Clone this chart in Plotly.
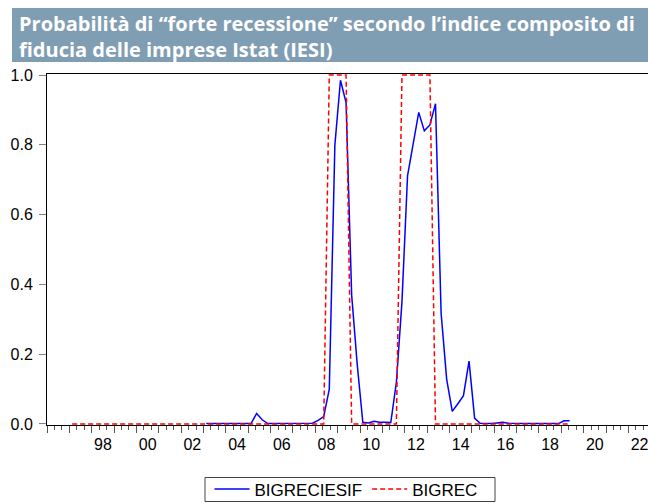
import plotly.graph_objects as go

# ---- data (quarterly) ----
blue_start = "2003Q1"
bigreciesif = [
    0.001, 0.001, 0.001, 0.001,   # 2003
    0.001, 0.001, 0.002, 0.001,   # 2004
    0.001, 0.030, 0.012, 0.001,   # 2005
    0.001, 0.001, 0.001, 0.001,   # 2006
    0.001, 0.001, 0.001, 0.002,   # 2007
    0.010, 0.021, 0.100, 0.800,   # 2008
    0.985, 0.921, 0.370, 0.170,   # 2009
    0.005, 0.003, 0.008, 0.005,   # 2010
    0.005, 0.004, 0.119, 0.350,   # 2011
    0.712, 0.803, 0.893, 0.840,   # 2012
    0.857, 0.918, 0.318, 0.128,   # 2013
    0.036, 0.058, 0.081, 0.180,   # 2014
    0.016, 0.002, 0.001, 0.001,   # 2015
    0.003, 0.005, 0.002, 0.001,   # 2016
    0.001, 0.001, 0.001, 0.001,   # 2017
    0.001, 0.001, 0.001, 0.001,   # 2018
    0.009, 0.009,                 # 2019
]

red_start = "1997Q1"
bigrec = [
    0, 0, 0, 0,   # 1997
    0, 0, 0, 0,   # 1998
    0, 0, 0, 0,   # 1999
    0, 0, 0, 0,   # 2000
    0, 0, 0, 0,   # 2001
    0, 0, 0, 0,   # 2002
    0, 0, 0, 0,   # 2003
    0, 0, 0, 0,   # 2004
    0, 0, 0, 0,   # 2005
    0, 0, 0, 0,   # 2006
    0, 0, 0, 0,   # 2007
    0, 0, 1, 1,   # 2008
    1, 1, 0, 0,   # 2009
    0, 0, 0, 0,   # 2010
    0, 0, 0, 1,   # 2011
    1, 1, 1, 1,   # 2012
    1, 0, 0, 0,   # 2013
    0, 0, 0, 0,   # 2014
    0, 0, 0, 0,   # 2015
    0, 0, 0, 0,   # 2016
    0, 0, 0, 0,   # 2017
    0, 0, 0, 0,   # 2018
    0, 0,         # 2019
]

year_labels = ["98", "00", "02", "04", "06", "08", "10", "12", "14", "16", "18", "20", "22"]
label_years = [1998, 2000, 2002, 2004, 2006, 2008, 2010, 2012, 2014, 2016, 2018, 2020, 2022]
y_ticks = [0.0, 0.2, 0.4, 0.6, 0.8, 1.0]

title_lines = ["Probabilità di “forte recessione” secondo l’indice composito di",
               "fiducia delle imprese Istat (IESI)"]


def quarter_positions(start, n):
    """Centre of each quarter on a fractional-year axis."""
    y, q = int(start[:4]), int(start[-1])
    out = []
    for _ in range(n):
        out.append(y + (q - 0.5) / 4)
        q += 1
        if q > 4:
            q, y = 1, y + 1
    return out


x_blue = quarter_positions(blue_start, len(bigreciesif))
x_red = quarter_positions(red_start, len(bigrec))

# ---- geometry ----
W, H = 648, 503
L, R, T, B = 47, 0, 74, 78
PW, PH = W - L - R, H - T - B
PX_PER_YEAR = 22.36
X0 = 1996.0
X1 = X0 + PW / PX_PER_YEAR


def px_x(px):
    return (px - L) / PW


def px_y(py):
    return (H - B - py) / PH


TICK_FONT = dict(family="Liberation Sans, Arial, sans-serif", size=16, color="#000000")
LEGEND_FONT = dict(family="Liberation Sans, Arial, sans-serif", size=17, color="#000000")

fig = go.Figure()
fig.add_trace(go.Scatter(x=x_blue, y=bigreciesif, mode="lines", name="BIGRECIESIF",
                         line=dict(color="#0000ff", width=1.5)))
fig.add_trace(go.Scatter(x=x_red, y=bigrec, mode="lines", name="BIGREC",
                         line=dict(color="#ff0000", width=1.5, dash="5px,3px")))
# carriers for the overlay axes (yearly ticks, year labels)
fig.add_trace(go.Scatter(x=[None], y=[None], xaxis="x2", showlegend=False, hoverinfo="skip"))
fig.add_trace(go.Scatter(x=[None], y=[None], xaxis="x3", showlegend=False, hoverinfo="skip"))

minor_ticks = [X0 + k / 3 for k in range(int((X1 - X0) * 3) + 1)]
year_ticks = list(range(1996, 2023))

common_x = dict(range=[X0, X1], showgrid=False, zeroline=False, fixedrange=True)

fig.update_layout(
    width=W, height=H,
    margin=dict(l=L, r=R, t=T, b=B, pad=0, autoexpand=False),
    paper_bgcolor="white", plot_bgcolor="white",
    xaxis=dict(**common_x, showline=True, linecolor="#000000", linewidth=1, mirror=True,
               tickmode="array", tickvals=minor_ticks, ticks="outside", ticklen=4,
               tickcolor="#555555", tickwidth=1, showticklabels=False),
    xaxis2=dict(**common_x, overlaying="x", anchor="y", side="bottom", showline=False,
                tickmode="array", tickvals=year_ticks, ticks="outside", ticklen=7,
                tickcolor="#555555", tickwidth=1, showticklabels=False),
    xaxis3=dict(**common_x, overlaying="x", anchor="y", side="bottom", showline=False,
                tickmode="array", tickvals=[y + 0.5 for y in label_years], ticktext=year_labels,
                ticks="outside", ticklen=5, tickcolor="rgba(0,0,0,0)",
                tickfont=TICK_FONT, ticklabeloverflow="allow"),
    yaxis=dict(range=[-0.003, 1.003], showgrid=False, zeroline=False, fixedrange=True,
               showline=True, linecolor="#000000", linewidth=1,
               tickmode="array", tickvals=y_ticks, ticktext=[f"{v:.1f}" for v in y_ticks],
               ticks="outside", ticklen=7, tickcolor="#808080", tickwidth=1,
               tickfont=TICK_FONT, ticklabelstandoff=3),
    showlegend=True,
    legend=dict(orientation="h", x=346 / W, xanchor="center", xref="container",
                y=(H - 489.5) / H, yanchor="middle", yref="container",
                borderwidth=0, bgcolor="rgba(0,0,0,0)",
                font=LEGEND_FONT, itemwidth=35, tracegroupgap=0),
)

# legend frame
fig.add_shape(type="rect", xref="paper", yref="paper",
              x0=px_x(205), x1=px_x(495), y0=px_y(501.5), y1=px_y(477.5),
              fillcolor="rgba(0,0,0,0)", line=dict(color="#444444", width=1), layer="above")

# title band
fig.add_shape(type="rect", xref="paper", yref="paper",
              x0=px_x(12), x1=px_x(W + 2), y0=px_y(62), y1=px_y(8),
              fillcolor="#7f9db3", line=dict(width=0), layer="above")

TITLE_FONT = dict(family="Open Sans, sans-serif", size=20, color="white", weight="bold")
fig.add_annotation(text="<br>".join(title_lines), xref="paper", yref="paper",
                   x=px_x(17), y=px_y(36.5), xanchor="left", yanchor="middle",
                   align="left", showarrow=False, font=TITLE_FONT)

fig.write_html("out.html")
